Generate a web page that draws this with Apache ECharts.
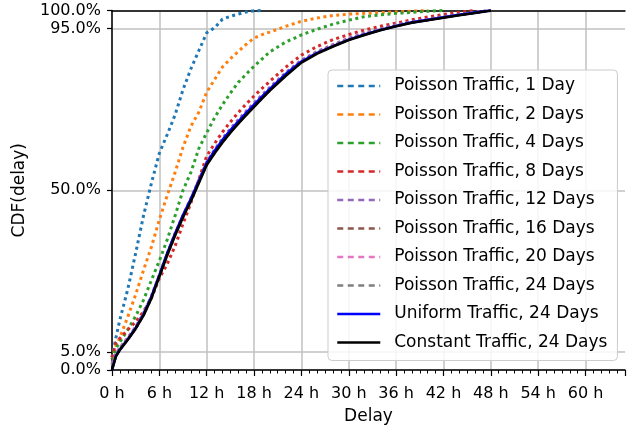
<!DOCTYPE html>
<html>
<head>
<meta charset="utf-8">
<script src="https://cdn.jsdelivr.net/npm/echarts@6/dist/echarts.min.js"></script>
<style>html,body{margin:0;padding:0;background:#fff;}#c{width:628px;height:430px;}</style>
</head>
<body>
<div id="c"></div>
<script>
const hours = [0,0.5,1,2,3,4,5,6,7,8,9,10,11,12,13,14,15,16,17,18,19,20,22,24,26,28,30,32,34,36,38,40,42,44,46,48];
const poisson1 = [3.5,9,14,22.5,32.5,43,52,60.3,65.5,71,78,83.8,88.8,93.8,95.2,97.6,98.4,99,99.6,99.9,100,null,null,null,null,null,null,null,null,null,null,null,null,null,null,null];
const poisson2 = [3,6.8,9,14.8,21,27.8,34.3,41.8,48.6,55,62,67.8,71.7,77.3,80.8,84.3,86.6,88.6,90.6,92.3,93.3,94,95.6,97,97.9,98.6,99,99.2,99.4,99.6,99.8,100,null,null,null,null];
const poisson4 = [3,6,7.8,11.2,15,19.5,25,30.4,36.3,43,50,55,61.6,66,70.2,73.8,77,80,82.3,84.5,86.5,88.5,91.2,93.2,94.8,96.2,97.3,98.3,98.8,99.2,99.5,99.8,100,null,null,null];
const poisson8 = [3.5,7.5,8.8,11.2,13.4,16.3,20,25.5,29.5,34.5,40.7,46.5,53,59.5,63,66.2,69,71.6,74,76.2,78.3,80.3,84.2,87.6,90,91.9,93.3,94.6,95.6,96.5,97.4,98.2,98.9,99.5,100,null];
const poisson12 = [2,4.5,6.2,9,12,15.8,20.6,26.4,32.4,38,43,47.8,52.8,57.8,61.3,64.4,67.1,69.6,72,74.3,76.5,78.6,82.7,86.2,88.6,90.5,92.3,93.7,94.9,96,96.9,97.6,98.3,98.9,99.5,100];
const poisson16 = [1.5,4.3,6,8.8,11.8,15.6,20.4,26.2,32.2,37.8,42.8,47.4,52.5,57.5,60.9,63.9,66.6,69.1,71.5,73.8,76,78.2,82.3,85.9,88.4,90.3,92.1,93.5,94.8,95.8,96.8,97.5,98.2,98.8,99.4,100];
const poisson20 = [1.5,4.1,5.9,8.7,11.7,15.5,20.3,26.2,32.1,37.7,42.7,47.3,52.3,57.3,60.7,63.7,66.4,68.9,71.3,73.6,75.8,78,82.1,85.8,88.3,90.2,92,93.4,94.7,95.8,96.7,97.4,98.1,98.8,99.4,100];
const poisson24 = [1.2,4,5.8,8.6,11.6,15.4,20.2,26.1,32.1,37.6,42.6,47.2,52.2,57.2,60.5,63.5,66.2,68.7,71.1,73.4,75.7,77.9,82,85.7,88.2,90.1,91.9,93.4,94.7,95.7,96.7,97.4,98.1,98.8,99.4,100];
const uniform24 = [0,3.9,5.7,8.5,11.7,15.5,20.4,26.4,32.5,38,43.1,47.6,52.6,57.6,61,64,66.7,69.1,71.5,73.8,76,78.2,82.3,85.8,88.2,90.1,91.9,93.3,94.6,95.7,96.7,97.4,98.1,98.8,99.4,100];
const constant24 = [0,3.8,5.6,8.4,11.5,15.2,20,26,32,37.5,42.5,47,52,57,60.3,63.3,66,68.5,70.9,73.2,75.5,77.7,81.8,85.5,88,90,91.8,93.2,94.5,95.6,96.6,97.3,98,98.7,99.3,100];
const yTicks = [0,5,50,95,100];

const seriesDefs = [
  {name:'Poisson Traffic, 1 Day', data:poisson1, color:'#1f77b4', dotted:true},
  {name:'Poisson Traffic, 2 Days', data:poisson2, color:'#ff7f0e', dotted:true},
  {name:'Poisson Traffic, 4 Days', data:poisson4, color:'#2ca02c', dotted:true},
  {name:'Poisson Traffic, 8 Days', data:poisson8, color:'#d62728', dotted:true},
  {name:'Poisson Traffic, 12 Days', data:poisson12, color:'#9467bd', dotted:true},
  {name:'Poisson Traffic, 16 Days', data:poisson16, color:'#8c564b', dotted:true},
  {name:'Poisson Traffic, 20 Days', data:poisson20, color:'#e377c2', dotted:true},
  {name:'Poisson Traffic, 24 Days', data:poisson24, color:'#7f7f7f', dotted:true},
  {name:'Uniform Traffic, 24 Days', data:uniform24, color:'#0000ff', dotted:false},
  {name:'Constant Traffic, 24 Days', data:constant24, color:'#000000', dotted:false}
];

const font = 'DejaVu Sans';
const chart = echarts.init(document.getElementById('c'), null, {renderer:'canvas'});
chart.setOption({
  animation:false,
  backgroundColor:'#fff',
  grid:{left:112, right:0, top:10.5, bottom:59.5},
  xAxis:[{
    type:'value', min:0, max:65, interval:6,
    name:'Delay', nameLocation:'middle', nameGap:38,
    nameTextStyle:{fontFamily:font, fontSize:17, color:'#000'},
    axisLine:{show:true, lineStyle:{color:'#000', width:1.5}},
    axisTick:{show:true, length:6, lineStyle:{color:'#000', width:1.2}},
    minorTick:{show:true, splitNumber:6, length:3.5, lineStyle:{color:'#000', width:1}},
    axisLabel:{margin:16, fontFamily:font, fontSize:16, color:'#000',
      formatter:function(v){return (v%6===0 && v<=60) ? v+' h' : '';}},
    splitLine:{show:true, showMaxLine:false, lineStyle:{color:'#c0c0c0', width:1.5}}
  },{
    type:'value', min:0, max:65, position:'top',
    axisLine:{show:true, onZero:false, lineStyle:{color:'#000', width:1.5}},
    axisTick:{show:false}, axisLabel:{show:false}, splitLine:{show:false}
  }],
  yAxis:{
    type:'value', min:0, max:100,
    name:'CDF(delay)', nameLocation:'middle', nameGap:84,
    nameTextStyle:{fontFamily:font, fontSize:17, color:'#000'},
    axisLine:{show:true, lineStyle:{color:'#000', width:1.5}},
    axisTick:{show:true, customValues:yTicks, length:5, lineStyle:{color:'#000', width:1.2}},
    axisLabel:{customValues:yTicks, margin:11, fontFamily:font, fontSize:16, color:'#000',
      formatter:function(v){return v.toFixed(1)+'%';}},
    splitLine:{show:true, lineStyle:{color:'#c0c0c0', width:1.5}}
  },
  legend:{
    orient:'vertical', left:328, top:70,
    padding:[7,10,9,8],
    itemWidth:43, itemHeight:18, itemGap:10.5,
    itemStyle:{opacity:0},
    backgroundColor:'rgba(255,255,255,0.85)',
    borderColor:'#cccccc', borderWidth:1, borderRadius:4,
    textStyle:{fontFamily:font, fontSize:17, color:'#000', lineHeight:18, padding:[0,0,0,9]},
    data:seriesDefs.map(function(s){
      return s.dotted ? {name:s.name, lineStyle:{type:[6,4.5], width:2.5}} : {name:s.name, lineStyle:{width:2.5}};
    })
  },
  series:seriesDefs.map(function(s){
    return {
      name:s.name, type:'line', symbol:'none', connectNulls:false,
      data:hours.map(function(h,i){return [h, s.data[i]];}),
      lineStyle:{color:s.color, width:s.dotted?3:2.6, type:s.dotted?[3,3.5]:'solid'},
      itemStyle:{color:s.color},
      z: s.dotted ? 2 : 3
    };
  })
});
</script>
</body>
</html>
